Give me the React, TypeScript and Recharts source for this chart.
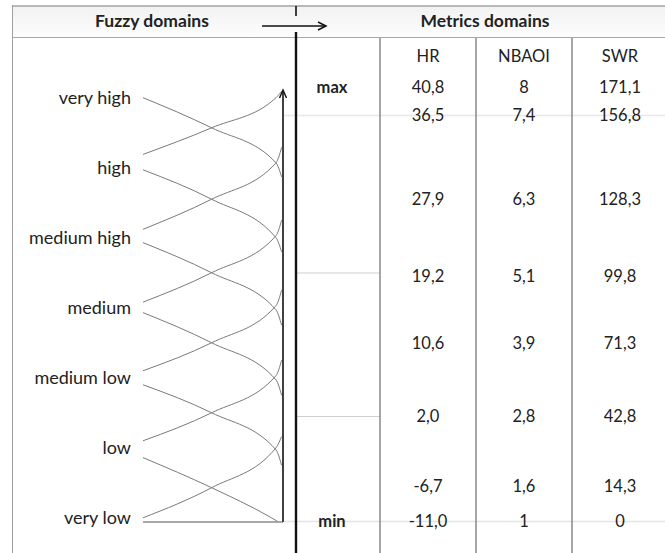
import React from "react";
import {
  LineChart,
  Line,
  XAxis,
  YAxis,
  ReferenceLine,
  ScatterChart,
  Scatter,
} from "recharts";

// Fuzzy linguistic levels, bottom to top
const fuzzyLabels = ["very low", "low", "medium low", "medium", "medium high", "high", "very high"];

// Membership curves (x: 0 = left, 1 = axis; y: level)
const risingCurves = [
  [{ x: 0, y: 0.0 }, { x: 0.49, y: 0.43 }, { x: 0.95, y: 1.0 }, { x: 0.99, y: 1.16 }],
  [{ x: 0, y: 1.1 }, { x: 0.49, y: 1.5 }, { x: 0.95, y: 2.03 }, { x: 0.99, y: 2.25 }],
  [{ x: 0, y: 2.1 }, { x: 0.49, y: 2.5 }, { x: 0.95, y: 3.03 }, { x: 0.99, y: 3.25 }],
  [{ x: 0, y: 3.08 }, { x: 0.49, y: 3.5 }, { x: 0.95, y: 4.03 }, { x: 0.99, y: 4.25 }],
  [{ x: 0, y: 4.12 }, { x: 0.49, y: 4.55 }, { x: 0.95, y: 5.07 }, { x: 0.99, y: 5.29 }],
  [{ x: 0, y: 5.19 }, { x: 0.49, y: 5.57 }, { x: 0.95, y: 6.0 }, { x: 0.99, y: 6.09 }],
];
const fallingCurves = [
  [{ x: 0, y: 0.86 }, { x: 0.49, y: 0.43 }, { x: 0.9, y: 0.02 }, { x: 0.96, y: -0.05 }],
  [{ x: 0, y: 1.9 }, { x: 0.49, y: 1.5 }, { x: 0.95, y: 0.97 }, { x: 0.99, y: 0.75 }],
  [{ x: 0, y: 2.93 }, { x: 0.49, y: 2.5 }, { x: 0.95, y: 1.97 }, { x: 0.99, y: 1.75 }],
  [{ x: 0, y: 3.93 }, { x: 0.49, y: 3.5 }, { x: 0.95, y: 2.97 }, { x: 0.99, y: 2.75 }],
  [{ x: 0, y: 4.97 }, { x: 0.49, y: 4.55 }, { x: 0.95, y: 4.0 }, { x: 0.99, y: 3.8 }],
  [{ x: 0, y: 6.0 }, { x: 0.49, y: 5.57 }, { x: 0.95, y: 5.07 }, { x: 0.99, y: 4.87 }],
];

// Metrics table
const metricNames = ["", "HR", "NBAOI", "SWR"];
const headerLevel = 6.6;
const rowLevels = [6.15, 5.75, 4.55, 3.45, 2.5, 1.45, 0.45, -0.05];
const boundLabels = ["max", "", "", "", "", "", "", "min"];
const hrValues = [40.8, 36.5, 27.9, 19.2, 10.6, 2.0, -6.7, -11.0];
const nbaoiValues = [8, 7.4, 6.3, 5.1, 3.9, 2.8, 1.6, 1];
const swrValues = [171.1, 156.8, 128.3, 99.8, 71.3, 42.8, 14.3, 0];

const FONT = "Lato, 'Open Sans', sans-serif";
const comma = (s: string) => s.replace(".", ",");

const columns = [
  boundLabels,
  hrValues.map((v) => comma(v.toFixed(1))),
  nbaoiValues.map((v) => comma(String(v))),
  swrValues.map((v) => comma(String(v))),
].map((texts, col) =>
  [{ col, level: headerLevel, text: metricNames[col] }].concat(
    texts.map((text, r) => ({ col, level: rowLevels[r], text }))
  )
);

const ArrowLine = (p: any) => {
  const top = Math.min(p.y1, p.y2);
  const bottom = Math.max(p.y1, p.y2);
  return (
    <g>
      <line x1={p.x1} y1={bottom} x2={p.x1} y2={top + 2} stroke="#111" strokeWidth={1.6} />
      <path d={`M${p.x1 - 3.5},${top + 8} L${p.x1},${top} L${p.x1 + 3.5},${top + 8}`} fill="none" stroke="#111" strokeWidth={1.4} />
    </g>
  );
};

const cellShape = (bold: boolean) => (p: any) => (
  <text
    x={p.cx}
    y={p.cy}
    textAnchor="middle"
    dominantBaseline="central"
    fontFamily={FONT}
    fontSize={16.5}
    fontWeight={bold ? 700 : 400}
    fill="#222"
  >
    {p.payload.text}
  </text>
);

const App: React.FC = () => {
  return (
    <div style={{ position: "absolute", left: 0, top: 0, width: 665, height: 553, background: "#fff", fontFamily: FONT, overflow: "hidden" }}>
      {/* header band */}
      <div style={{ position: "absolute", left: 12, top: 5, width: 653, height: 33, background: "linear-gradient(#f2f2f2, #fdfdfd)", borderTop: "2px solid #b8b8b8", borderBottom: "1.5px solid #a8a8a8", boxSizing: "border-box" }} />
      <div style={{ position: "absolute", left: 12, top: 5, width: 0, height: 548, borderLeft: "1.5px solid #a0a0a0" }} />
      <div style={{ position: "absolute", left: 52, top: 10, width: 200, textAlign: "center", fontWeight: 700, fontSize: 17.5, color: "#222" }}>Fuzzy domains</div>
      <div style={{ position: "absolute", left: 385, top: 10, width: 200, textAlign: "center", fontWeight: 700, fontSize: 17.5, color: "#222" }}>Metrics domains</div>

      <LineChart width={296} height={553} margin={{ top: 90, right: 13, bottom: 0, left: 0 }} style={{ position: "absolute", left: 0, top: 0 }}>
        <XAxis type="number" dataKey="x" domain={[0, 1]} height={31} tick={false} tickLine={false} axisLine={{ stroke: "#555", strokeWidth: 1.2 }} />
        <YAxis
          type="number"
          domain={[-0.06, 6.11]}
          ticks={[0, 1, 2, 3, 4, 5, 6]}
          tickFormatter={(v: number) => fuzzyLabels[v]}
          width={143}
          axisLine={false}
          tickLine={false}
          tickSize={0}
          tickMargin={12}
          tick={{ fill: "#222", fontSize: 18, fontFamily: FONT }}
          allowDataOverflow
        />
        {risingCurves.map((c, i) => (
          <Line key={`r${i}`} data={c} dataKey="y" type="monotone" dot={false} stroke="#7a7a7a" strokeWidth={1} isAnimationActive={false} />
        ))}
        {fallingCurves.map((c, i) => (
          <Line key={`f${i}`} data={c} dataKey="y" type="monotone" dot={false} stroke="#7a7a7a" strokeWidth={1} isAnimationActive={false} />
        ))}
        <ReferenceLine segment={[{ x: 1, y: -0.06 }, { x: 1, y: 6.11 }]} shape={ArrowLine} />
      </LineChart>

      <ScatterChart width={384} height={515} margin={{ top: 0, right: 0, bottom: 0, left: 0 }} style={{ position: "absolute", left: 284, top: 38 }}>
        <XAxis type="number" dataKey="col" domain={[-0.5, 3.5]} hide />
        <YAxis type="number" dataKey="level" domain={[-0.5, 6.857]} hide />
        <ReferenceLine y={5.75} stroke="#e8e8e8" strokeWidth={1.5} />
        <ReferenceLine y={-0.05} stroke="#e4e4e4" strokeWidth={1.5} />
        <ReferenceLine segment={[{ x: -0.37, y: 3.5 }, { x: 0.5, y: 3.5 }]} stroke="#cfcfcf" />
        <ReferenceLine segment={[{ x: -0.37, y: 1.45 }, { x: 0.5, y: 1.45 }]} stroke="#cfcfcf" />
        <ReferenceLine x={0.5} stroke="#888" strokeWidth={1.5} />
        <ReferenceLine x={1.5} stroke="#888" strokeWidth={1.5} />
        <ReferenceLine x={2.5} stroke="#888" strokeWidth={1.5} />
        {columns.map((data, i) => (
          <Scatter key={i} data={data} shape={cellShape(i === 0)} isAnimationActive={false} />
        ))}
      </ScatterChart>

      {/* thick separator and header arrow */}
      <svg width={665} height={553} style={{ position: "absolute", left: 0, top: 0, pointerEvents: "none" }}>
        <line x1={296} y1={6} x2={296} y2={16} stroke="#111" strokeWidth={1.6} />
        <line x1={296} y1={32} x2={296} y2={553} stroke="#111" strokeWidth={2.4} />
        <line x1={262} y1={26} x2={325} y2={26} stroke="#111" strokeWidth={1.5} />
        <path d="M318,22 L326,26 L318,30" fill="none" stroke="#111" strokeWidth={1.5} />
      </svg>
    </div>
  );
};

export default App;
